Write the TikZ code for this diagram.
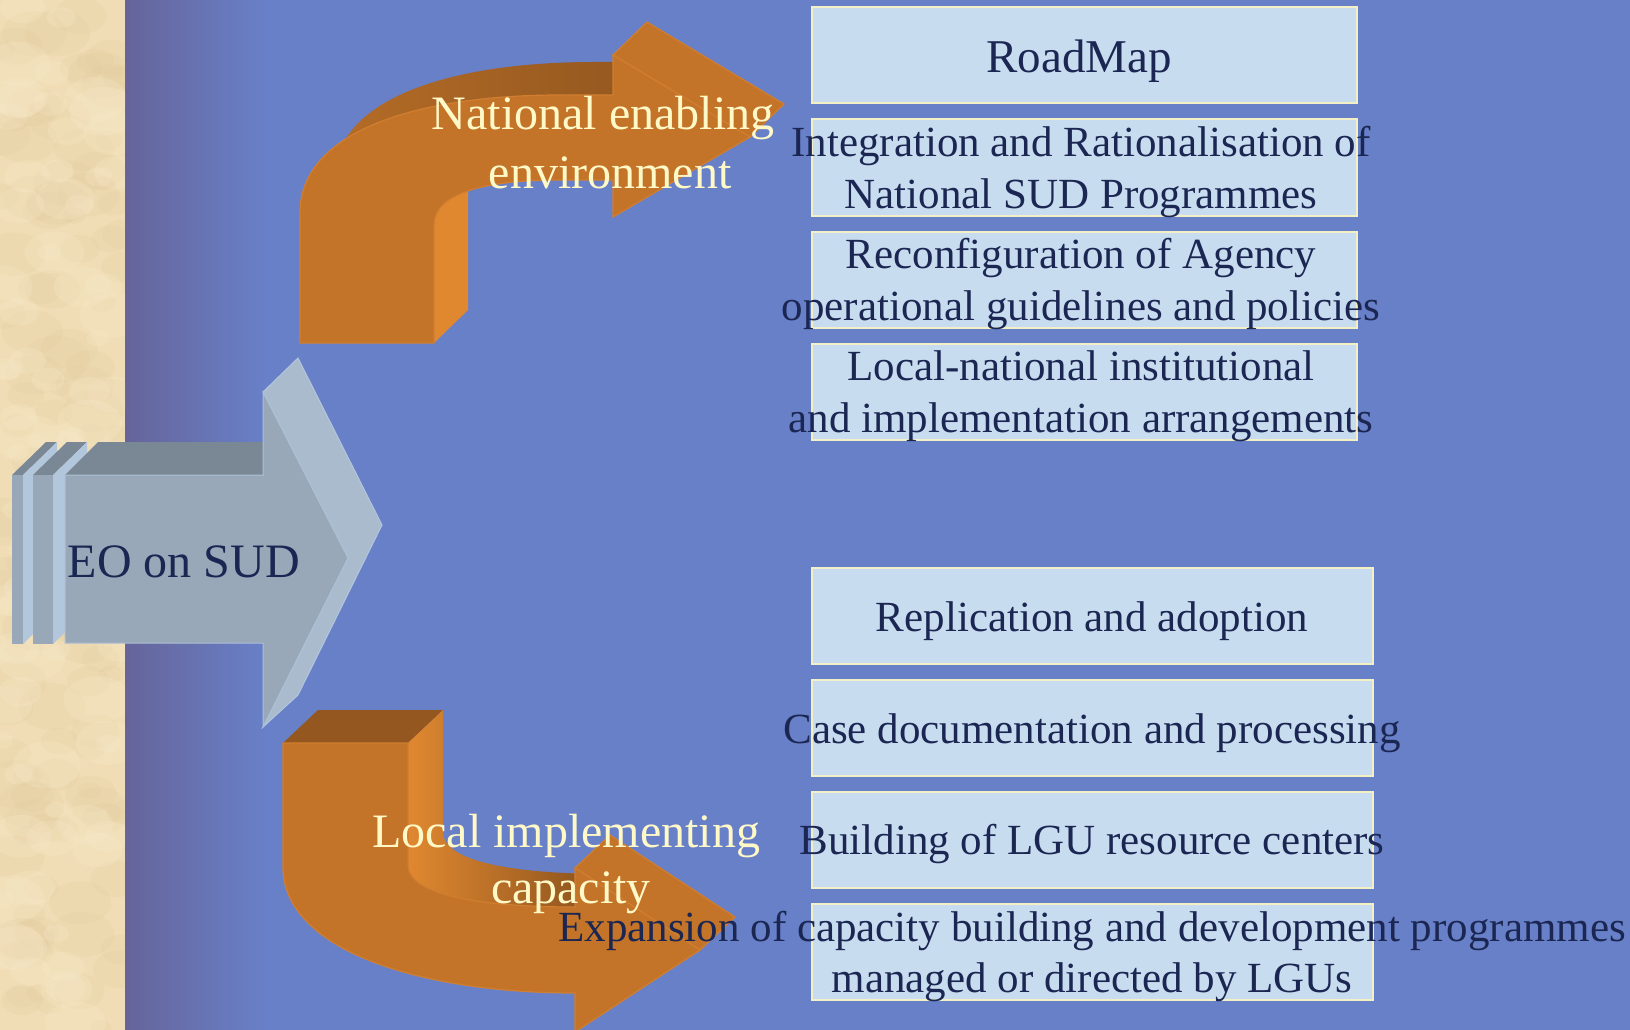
\documentclass[tikz,border=0pt]{standalone}
\usepackage{fontspec}
\setmainfont{Liberation Serif}
\definecolor{bgblue}{HTML}{6880C8}
\definecolor{bgpurple}{HTML}{66649A}
\definecolor{beige}{HTML}{F0DDB5}
\definecolor{beigedark}{HTML}{DCC494}
\definecolor{beigelight}{HTML}{F8EACB}
\definecolor{boxfill}{HTML}{C8DCF0}
\definecolor{boxline}{HTML}{F2F0C4}
\definecolor{navy}{HTML}{1B2752}
\definecolor{cream}{HTML}{FFF9C8}
\definecolor{orfront}{HTML}{C47428}
\definecolor{ortopL}{HTML}{B86E28}
\definecolor{ortopD}{HTML}{93571F}
\definecolor{orside}{HTML}{E08830}
\definecolor{oredge}{HTML}{D07E30}
\definecolor{eofront}{HTML}{98A8B8}
\definecolor{eotop}{HTML}{7A8794}
\definecolor{eoside}{HTML}{AABBCE}
\definecolor{eostrip}{HTML}{B2C6DC}
\tikzset{
  boxsty/.style={draw=boxline, fill=boxfill, line width=2pt, inner sep=0pt},
  boxtxt/.style={font=\fontsize{43}{52}\selectfont, text=navy, anchor=base, inner sep=0pt},
  bigtxt/.style={font=\fontsize{48}{58}\selectfont, anchor=base, inner sep=0pt},
  orface/.style={fill=orfront, draw=oredge, line width=1.2pt},
}
\begin{document}
\begin{tikzpicture}[x=1pt, y=-1pt]
\useasboundingbox (0,0) rectangle (1630,1030);
% background
\fill[bgblue] (0,0) rectangle (1630,1030);
\shade[left color=bgpurple, right color=bgblue] (125,0) rectangle (265,1030);
% beige textured strip
\fill[beige] (0,0) rectangle (125,1030);
\begin{scope}
  \clip (0,0) rectangle (125,1030);
  \pgfmathsetseed{7}
  \foreach \i in {1,...,110} {
    \pgfmathsetmacro\xx{rnd*125}
    \pgfmathsetmacro\yy{rnd*1030}
    \pgfmathsetmacro\rr{10+rnd*25}
    \fill[beigedark, opacity=0.14] (\xx,\yy) ellipse [x radius=\rr pt, y radius=0.7*\rr pt];
  }
  \foreach \i in {1,...,90} {
    \pgfmathsetmacro\xx{rnd*125}
    \pgfmathsetmacro\yy{rnd*1030}
    \pgfmathsetmacro\rr{10+rnd*25}
    \fill[beigelight, opacity=0.25] (\xx,\yy) ellipse [x radius=\rr pt, y radius=0.7*\rr pt];
  }
\end{scope}

% ---------- EO arrow ----------
% slab 1
\fill[eotop] (12,475) -- (46,442) -- (57,442) -- (23,475) -- cycle;
\fill[eostrip] (23,475) -- (57,442) -- (57,611) -- (23,644) -- cycle;
\fill[eofront] (12,475) rectangle (23,644);
% slab 2
\fill[eotop] (33,475) -- (67,442) -- (87,442) -- (53,475) -- cycle;
\fill[eostrip] (53,475) -- (87,442) -- (87,611) -- (53,644) -- cycle;
\fill[eofront] (33,475) rectangle (53,644);
% body
\fill[eotop] (65,475) -- (98,442) -- (263,442) -- (263,475) -- cycle;
\filldraw[fill=eoside, draw=eostrip, line width=1pt] (263,392) -- (298,358) -- (382,525) -- (298,695) -- (263,727) -- (348,558) -- cycle;
\filldraw[fill=eofront, draw=eostrip!80!eofront, line width=1pt] (65,475) -- (263,475) -- (263,392) -- (348,558) -- (263,727) -- (263,643) -- (65,643) -- cycle;
\node[bigtxt, text=navy] (eo) at (184,577) {EO on SUD};

% ---------- top curved arrow ----------
\shade[left color=ortopL, right color=ortopD] (300,213) .. controls (300,130) and (420,95) .. (560,95) -- (613,95) -- (647,62) -- (594,62) .. controls (454,62) and (334,97) .. (334,180) -- cycle;
\fill[orside] (434,343) -- (468,310) -- (468,160) -- (434,160) -- cycle;
\filldraw[orface] (613,55) -- (647,22) -- (784,104) -- (750,137) -- cycle;
\filldraw[orface] (300,343) -- (300,213) .. controls (300,130) and (420,95) .. (560,95) -- (613,95) -- (613,55) -- (750,137) -- (613,217) -- (613,180) -- (560,180) .. controls (480,180) and (434,195) .. (434,225) -- (434,343) -- cycle;

% ---------- bottom curved arrow ----------
\fill[ortopD] (283,743) -- (318,710) -- (443,710) -- (408,743) -- cycle;
\shade[left color=orside, right color=ortopD!90!black] (408,743) -- (443,710) -- (443,832) .. controls (443,862) and (515,874) .. (610,874) -- (575,907) .. controls (480,907) and (408,895) .. (408,865) -- cycle;
\filldraw[orface] (575,868) -- (610,835) -- (735,917) -- (700,950) -- cycle;
\filldraw[orface] (283,743) -- (408,743) -- (408,865) .. controls (408,895) and (480,907) .. (575,907) -- (575,868) -- (700,950) -- (575,1032) -- (575,993) .. controls (420,993) and (283,950) .. (283,867) -- cycle;

% ---------- boxes ----------
\node[boxsty, minimum width=545pt, minimum height=96pt] (b1) at (1084.5,55) {};
\node[boxsty, minimum width=545pt, minimum height=96pt] (b2) at (1084.5,167.5) {};
\node[boxsty, minimum width=545pt, minimum height=96pt] (b3) at (1084.5,279.5) {};
\node[boxsty, minimum width=545pt, minimum height=96pt] (b4) at (1084.5,391.5) {};
\node[boxsty, minimum width=561pt, minimum height=96pt] (c1) at (1092.5,615.5) {};
\node[boxsty, minimum width=561pt, minimum height=96pt] (c2) at (1092.5,727.5) {};
\node[boxsty, minimum width=561pt, minimum height=96pt] (c3) at (1092.5,839.5) {};
\node[boxsty, minimum width=561pt, minimum height=96pt] (c4) at (1092.5,951.5) {};

% ---------- arrow labels ----------
\node[bigtxt, text=cream] (ne1) at (603,130) {National enabling};
\node[bigtxt, text=cream] (ne2) at (610,188) {environment};
\node[bigtxt, text=cream] (li1) at (566,847) {Local implementing};
\node[bigtxt, text=cream] (li2) at (571,903) {capacity};

% ---------- box texts ----------
\node[boxtxt, font=\fontsize{47}{56}\selectfont] (t1) at (1079,73) {RoadMap};
\node[boxtxt] (t2a) at (1081,157) {Integration and Rationalisation of};
\node[boxtxt] (t2b) at (1081,208) {National SUD Programmes};
\node[boxtxt] (t3a) at (1081,268) {Reconfiguration of Agency};
\node[boxtxt] (t3b) at (1081,320) {operational guidelines and policies};
\node[boxtxt] (t4a) at (1081,380) {Local-national institutional};
\node[boxtxt] (t4b) at (1081,432) {and implementation arrangements};
\node[boxtxt] (u1) at (1092,631) {Replication and adoption};
\node[boxtxt] (u2) at (1092,743) {Case documentation and processing};
\node[boxtxt] (u3) at (1092,854) {Building of LGU resource centers};
\node[boxtxt] (u4a) at (1092,941) {Expansion of capacity building and development programmes};
\node[boxtxt] (u4b) at (1092,992) {managed or directed by LGUs};
\end{tikzpicture}
\end{document}
